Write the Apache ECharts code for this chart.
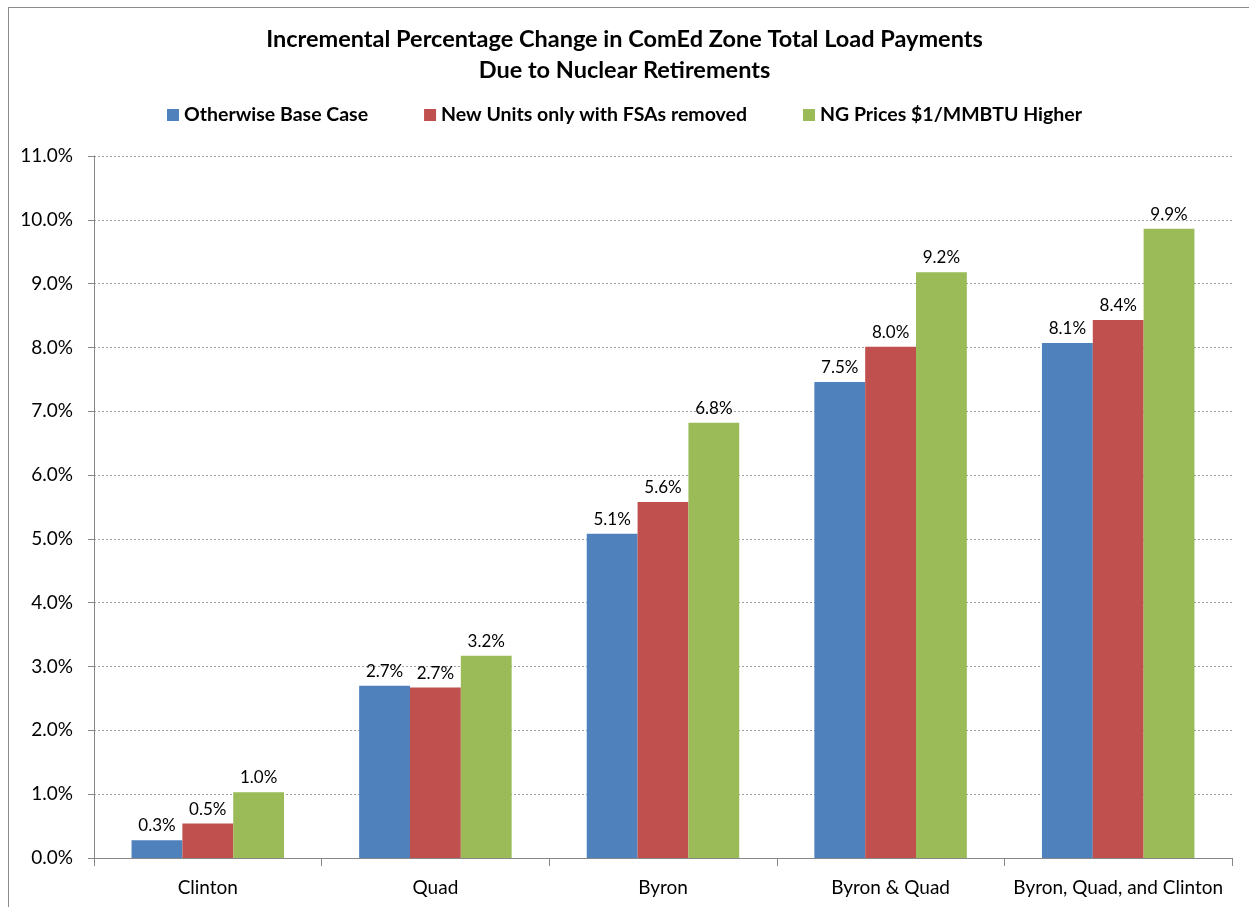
<!DOCTYPE html>
<html>
<head>
<meta charset="utf-8">
<script src="https://cdn.jsdelivr.net/npm/echarts@6/dist/echarts.min.js"></script>
<style>
html,body{margin:0;padding:0;background:#fff;}
#frame{position:absolute;left:8px;top:7px;width:1260px;height:920px;border-left:1px solid #8c8c8c;border-top:1px solid #8c8c8c;}
#chart{position:absolute;left:0;top:0;width:1249px;height:907px;}
</style>
</head>
<body>
<div id="frame"></div>
<div id="chart"></div>
<script>
var categories = ["Clinton", "Quad", "Byron", "Byron & Quad", "Byron, Quad, and Clinton"];
var seriesNames = ["Otherwise Base Case", "New Units only with FSAs removed", "NG Prices $1/MMBTU Higher"];
var baseCase = [0.28, 2.70, 5.08, 7.46, 8.07];
var fsaRemoved = [0.54, 2.67, 5.58, 8.01, 8.43];
var ngHigher = [1.03, 3.17, 6.82, 9.18, 9.86];
var yTicks = [0, 1, 2, 3, 4, 5, 6, 7, 8, 9, 10, 11];
var colors = ["#4f81bd", "#c0504d", "#9bbb59"];

var fontFam = "Lato, 'Open Sans', sans-serif";
var chart = echarts.init(document.getElementById('chart'));
function mk(name, data, color) {
  return {
    name: name, type: 'bar', data: data, barGap: '0%', barCategoryGap: '33%',
    itemStyle: { color: color },
    label: { show: true, position: 'top', distance: 6, color: '#000', fontFamily: fontFam, fontSize: 17,
      formatter: function (p) { return p.value.toFixed(1) + '%'; } }
  };
}
chart.setOption({
  animation: false,
  title: {
    text: 'Incremental Percentage Change in ComEd Zone Total Load Payments\nDue to Nuclear Retirements',
    left: 'center', top: 19,
    textStyle: { fontFamily: fontFam, fontSize: 23.5, fontWeight: 'bold', color: '#000', lineHeight: 31 }
  },
  legend: {
    top: 100, left: 'center', itemWidth: 12, itemHeight: 12, itemGap: 56,
    icon: 'rect',
    textStyle: { fontFamily: fontFam, fontSize: 19.5, fontWeight: 'bold', color: '#000' },
    data: seriesNames
  },
  grid: { left: 94, right: 17, top: 156, bottom: 49, containLabel: false },
  xAxis: {
    type: 'category', data: categories,
    axisLine: { lineStyle: { color: '#868686' } },
    axisTick: { show: true, alignWithLabel: false, length: 8, lineStyle: { color: '#868686' } },
    axisLabel: { interval: 0, fontFamily: fontFam, fontSize: 19, color: '#000', margin: 20 }
  },
  yAxis: {
    type: 'value', min: 0, max: 11, interval: 1,
    axisLine: { show: true, lineStyle: { color: '#868686' } },
    axisTick: { show: true, length: 6, lineStyle: { color: '#868686' } },
    axisLabel: { fontFamily: fontFam, fontSize: 19, color: '#000', margin: 21,
      formatter: function (v) { return v.toFixed(1) + '%'; } },
    splitLine: { lineStyle: { color: '#a0a0a0', type: [2, 2] } }
  },
  series: [mk(seriesNames[0], baseCase, colors[0]), mk(seriesNames[1], fsaRemoved, colors[1]), mk(seriesNames[2], ngHigher, colors[2])]
});
</script>
</body>
</html>
